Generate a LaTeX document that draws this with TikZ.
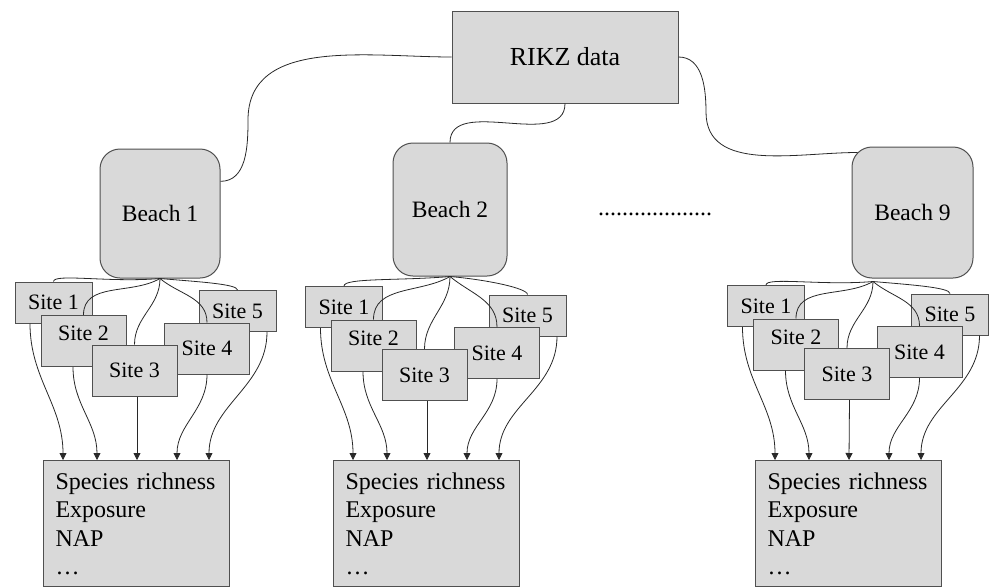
\documentclass[tikz,border=0pt]{standalone}
\usepackage{fontspec}
\setmainfont{Liberation Serif}
\usepackage{tikz}
\usetikzlibrary{arrows.meta,calc}
\definecolor{boxgray}{RGB}{217,217,217}
\definecolor{edgegray}{RGB}{80,80,80}
\definecolor{linegray}{RGB}{40,40,40}

\begin{document}
\begin{tikzpicture}[
   x=1pt,y=1pt,
   box/.style={draw=edgegray,fill=boxgray,line width=1pt,inner sep=0pt},
   beach/.style={box,rounded corners=20pt,font=\fontsize{23.5}{27}\selectfont},
   site/.style={box,font=\fontsize{22}{26}\selectfont},
   shortsite/.style={site,minimum width=77pt,minimum height=41pt},
   tallsite/.style={site,minimum width=85pt,minimum height=51pt},
   highsite/.style={tallsite,text depth=15pt},
   data/.style={box,anchor=north west,align=left,text width=162pt,inner xsep=12pt,inner ysep=12pt,font=\fontsize{24}{28.5}\selectfont},
   link/.style={draw=linegray,line width=0.8pt},
   side/.style={link,out looseness=1.2,in looseness=0.2},
   feed/.style={link,-{Triangle[length=7pt,width=7pt]}}]
\clip (0,0) rectangle (989,-587);
% top level
\node[box,minimum width=226pt,minimum height=92pt,font=\fontsize{26}{30}\selectfont] (rikz) at (565,-57) {RIKZ data};
\node[beach,minimum width=120pt,minimum height=129pt] (beach1) at (160,-213.5) {Beach 1};
\node[beach,minimum width=114pt,minimum height=133pt] (beach2) at (450,-209.5) {Beach 2};
\node[beach,minimum width=121pt,minimum height=131pt] (beach9) at (912.5,-212.5) {Beach 9};
\node[font=\fontsize{24}{28}\selectfont,anchor=base] (dots) at (655,-215) {...................};
\coordinate (bend1) at (248,-120);
\coordinate (bend9) at (706,-112);
\draw[link] (rikz.west) to[out=180,in=90] (bend1) to[out=-90,in=0] (beach1.28);
\draw[link] (rikz.south) to[out=-90,in=90] (beach2.north);
\draw[link] (rikz.east) to[out=0,in=90] (bend9) to[out=-90,in=180] ($(beach9.north west)+(6,-6)$);
% sites of beach 1
\node[shortsite] (s11) at (53.5,-302.5) {Site 1};
\node[shortsite] (s15) at (237.5,-311) {Site 5};
\node[highsite] (s12) at (83.5,-341) {Site 2};
\node[tallsite] (s14) at (207,-348.5) {Site 4};
\node[tallsite] (s13) at (134.5,-370.5) {Site 3};
\node[data] (data1) at (43,-460) {Species richness\\Exposure\\NAP\\…};
% sites of beach 2
\node[shortsite] (s21) at (344,-307) {Site 1};
\node[shortsite] (s25) at (527.5,-315.5) {Site 5};
\node[highsite] (s22) at (373.5,-345.5) {Site 2};
\node[tallsite] (s24) at (497,-353) {Site 4};
\node[tallsite] (s23) at (424.5,-375) {Site 3};
\node[data] (data2) at (333,-460) {Species richness\\Exposure\\NAP\\…};
% sites of beach 9
\node[shortsite] (s91) at (766,-306) {Site 1};
\node[shortsite] (s95) at (950,-314.5) {Site 5};
\node[highsite] (s92) at (796,-344.5) {Site 2};
\node[tallsite] (s94) at (919.5,-352) {Site 4};
\node[tallsite] (s93) at (847,-374) {Site 3};
\node[data] (data9) at (755,-460) {Species richness\\Exposure\\NAP\\…};
\coordinate (fan9) at ([xshift=-39.5pt,yshift=-3pt]beach9.south);
% beach to sites
\draw[side] (beach1.south) to[out=185,in=90] (s11.north);
\draw[link] (beach1.south) to[out=-150,in=90] (s12.north);
\draw[link] (beach1.south) to[out=-90,in=90] (s13.north);
\draw[link] (beach1.south) to[out=-40,in=90] (s14.north);
\draw[side] (beach1.south) to[out=-5,in=90] (s15.north);
\draw[side] (beach2.south) to[out=185,in=90] (s21.north);
\draw[link] (beach2.south) to[out=-150,in=90] (s22.north);
\draw[link] (beach2.south) to[out=-90,in=90] (s23.north);
\draw[link] (beach2.south) to[out=-40,in=90] (s24.north);
\draw[side] (beach2.south) to[out=-5,in=90] (s25.north);
\draw[side] (fan9) to[out=185,in=90] (s91.north);
\draw[link] (fan9) to[out=-150,in=90] (s92.north);
\draw[link] (fan9) to[out=-90,in=90] (s93.north);
\draw[link] (fan9) to[out=-40,in=90] (s94.north);
\draw[side] (fan9) to[out=-5,in=90] (s95.north);
% sites to data
\draw[feed] ([xshift=-23.5pt]s11.south) to[out=-90,in=90] ([xshift=20pt]data1.north west);
\draw[feed] ([xshift=-10.5pt]s12.south) to[out=-90,in=90] ([xshift=54pt]data1.north west);
\draw[feed] ([xshift=2.5pt]s13.south) -- ([xshift=94pt]data1.north west);
\draw[feed] (s14.south) to[out=-90,in=90] ([xshift=134pt]data1.north west);
\draw[feed] ([xshift=29.5pt]s15.south) to[out=-90,in=90] ([xshift=166pt]data1.north west);
\draw[feed] ([xshift=-23.5pt]s21.south) to[out=-90,in=90] ([xshift=20pt]data2.north west);
\draw[feed] ([xshift=-10.5pt]s22.south) to[out=-90,in=90] ([xshift=54pt]data2.north west);
\draw[feed] ([xshift=2.5pt]s23.south) -- ([xshift=94pt]data2.north west);
\draw[feed] (s24.south) to[out=-90,in=90] ([xshift=134pt]data2.north west);
\draw[feed] ([xshift=29.5pt]s25.south) to[out=-90,in=90] ([xshift=166pt]data2.north west);
\draw[feed] ([xshift=-23.5pt]s91.south) to[out=-90,in=90] ([xshift=20pt]data9.north west);
\draw[feed] ([xshift=-10.5pt]s92.south) to[out=-90,in=90] ([xshift=54pt]data9.north west);
\draw[feed] ([xshift=2.5pt]s93.south) -- ([xshift=94pt]data9.north west);
\draw[feed] (s94.south) to[out=-90,in=90] ([xshift=134pt]data9.north west);
\draw[feed] ([xshift=29.5pt]s95.south) to[out=-90,in=90] ([xshift=166pt]data9.north west);
\end{tikzpicture}
\end{document}
